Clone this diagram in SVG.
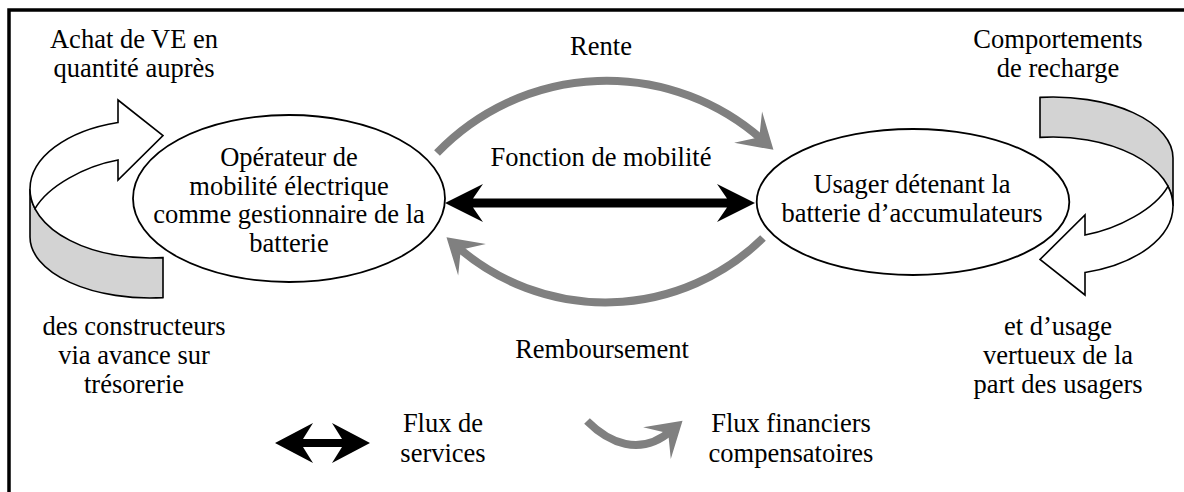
<svg xmlns="http://www.w3.org/2000/svg" width="1184" height="492" viewBox="0 0 1184 492">
<style>
text{font-family:"Liberation Serif","Times New Roman",serif;font-size:26.5px;fill:#000;text-anchor:middle}
.node{fill:#fff;stroke:#000;stroke-width:1.8}
.band{fill:#d3d3d3;stroke:#000;stroke-width:1.6;stroke-linejoin:miter}
.rib{fill:#fff;stroke:#000;stroke-width:1.6;stroke-linejoin:miter}
.fin{fill:none;stroke:#808080;stroke-width:8;marker-end:url(#gh)}
.svc{fill:#000;stroke:none}
</style>
<defs>
<marker id="gh" markerUnits="userSpaceOnUse" viewBox="-25 -25 45 50" refX="0" refY="0" markerWidth="45" markerHeight="50" orient="auto" overflow="visible">
<path d="M14,0 L-20,-21 L-5,0 L-20,21 Z" fill="#808080"/>
</marker>
<g id="loop">
<path class="band" d="M30,189 A120,69 0 0 0 163,257.6 L163,297.6 A120,61 0 0 1 30,237 Z"/>
<path class="rib" d="M30,189 A120,69 0 0 1 118,122.5 L118,100 L163,135.5 L118,180 L118,160 C85,166 48,186 35,208.7 A120,69 0 0 1 30,189 Z"/>
</g>
</defs>
<rect width="1184" height="492" fill="#fff"/>
<path d="M9,492 V10 H1184" fill="none" stroke="#000" stroke-width="3.5"/>

<g id="achat-loop">
<use href="#loop"/>
<text x="134" y="48">Achat de VE en</text>
<text x="134" y="77">quantité auprès</text>
<text x="134" y="335">des constructeurs</text>
<text x="134" y="364">via avance sur</text>
<text x="134" y="393">trésorerie</text>
</g>

<g id="comportements-loop">
<use href="#loop" transform="rotate(180 601.5 197.5)"/>
<text x="1058" y="48">Comportements</text>
<text x="1058" y="77">de recharge</text>
<text x="1058" y="335">et d’usage</text>
<text x="1058" y="364">vertueux de la</text>
<text x="1058" y="393">part des usagers</text>
</g>

<g id="operateur">
<ellipse class="node" cx="289" cy="198.5" rx="156" ry="83.5"/>
<text x="289" y="166">Opérateur de</text>
<text x="289" y="195">mobilité électrique</text>
<text x="289" y="223">comme gestionnaire de la</text>
<text x="289" y="252">batterie</text>
</g>

<g id="usager">
<ellipse class="node" cx="913" cy="202" rx="156.3" ry="73"/>
<text x="912" y="193">Usager détenant la</text>
<text x="912" y="222">batterie d’accumulateurs</text>
</g>

<g id="connectors">
<path class="fin" d="M437,153 A235,235 0 0 1 763,140.5"/>
<path class="fin" d="M763,238 A225,225 0 0 1 457,246.5"/>
<polygon class="svc" points="445,203 483,184 473,198.5 727,198.5 717,184 755,203 717,222 727,207.5 473,207.5 483,222"/>
<text x="601" y="55">Rente</text>
<text x="601" y="166">Fonction de mobilité</text>
<text x="602" y="358">Remboursement</text>
</g>

<g id="legend">
<polygon class="svc" points="275,443 313,423 303,439 342,439 332,423 370,443 332,463 342,447 303,447 313,463"/>
<text x="443" y="432">Flux de</text>
<text x="443" y="462">services</text>
<path class="fin" d="M587,421 C608,442 640,458 672,430"/>
<text x="791" y="432">Flux financiers</text>
<text x="791" y="462">compensatoires</text>
</g>
</svg>
